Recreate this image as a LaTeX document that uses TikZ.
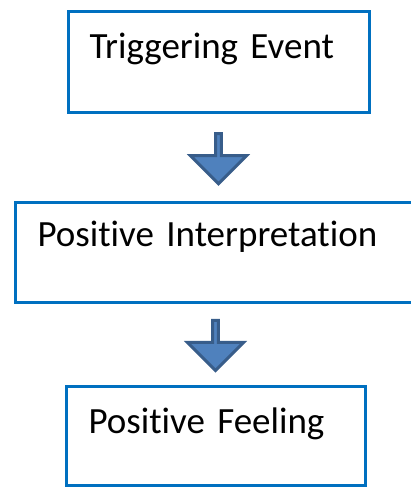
\documentclass[tikz,border=0pt]{standalone}
\usepackage{fontspec}
\setmainfont{Carlito}[Ligatures=NoCommon]
\usetikzlibrary{shapes.arrows, calc}
\definecolor{boxblue}{RGB}{0,112,192}
\definecolor{arrowfill}{RGB}{79,129,189}
\definecolor{arrowline}{RGB}{56,93,138}

\begin{document}
\begin{tikzpicture}[x=1pt, y=-1pt]
    % Styles
    \tikzstyle{box} = [rectangle, draw=boxblue, line width=3pt, anchor=north west, align=left, inner ysep=0pt, font=\fontsize{37}{44}\selectfont]
    \tikzstyle{downarrow} = [single arrow, draw=arrowline, fill=arrowfill, line width=3pt, shape border rotate=270, minimum height=50pt, minimum width=56pt, single arrow head extend=13pt, inner sep=0pt]

    \useasboundingbox (0,0) rectangle (411,487);
    \clip (0,0) rectangle (411,487);

    % Nodes
    \node [box, text width=258pt, inner xsep=21.5pt, text height=47pt, text depth=54pt] (trigger) at (66.5,10) {Triggering Event};
    \node [box, text width=361.5pt, inner xsep=22.5pt, text height=44.5pt, text depth=55.5pt] (interp) at (13.5,200.5) {Positive Interpretation};
    \node [box, text width=254pt, inner xsep=22.5pt, text height=47.5pt, text depth=51.5pt] (feeling) at (64.5,384.5) {Positive Feeling};

    % Paths
    \node [downarrow] (arrowA) at ($(trigger.south)!0.5!(trigger.south |- interp.north)$) {};
    \node [downarrow] (arrowB) at ($(interp.south -| feeling.north)!0.5!(feeling.north)$) {};

\end{tikzpicture}
\end{document}
